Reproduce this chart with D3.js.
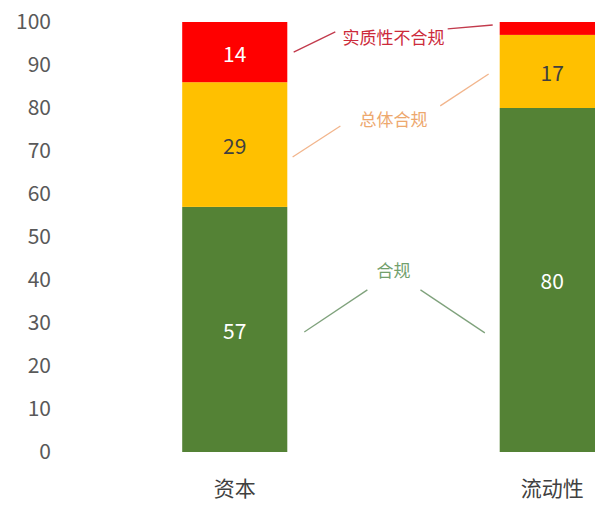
<!DOCTYPE html>
<html><head><meta charset="utf-8">
<script src="https://cdn.jsdelivr.net/npm/d3@7/dist/d3.min.js"></script>
<style>body{margin:0;background:#fff}svg{display:block}</style>
</head><body>
<svg id="c" width="595" height="506"></svg>
<script>
const categories = ["资本", "流动性"];
const compliant = [57, 80];
const overallCompliant = [29, 17];
const materialNonCompliant = [14, 3];
const seriesNames = ["合规", "总体合规", "实质性不合规"];
const seriesColors = ["#548235", "#FFC000", "#FF0000"];
const labelColors = ["#ffffff", "#404040", "#ffffff"];
const yTicks = [0, 10, 20, 30, 40, 50, 60, 70, 80, 90, 100];

const svg = d3.select("#c");
const font = "'Microsoft YaHei','Noto Sans CJK SC','Noto Sans',sans-serif";

const x = d3.scaleBand().domain(categories).range([76, 711]).paddingInner(0.669).paddingOuter(0.3345);
const y = d3.scaleLinear().domain([0, 100]).range([452, 22]);

const rows = categories.map((c, i) => ({cat: c, s0: compliant[i], s1: overallCompliant[i], s2: materialNonCompliant[i]}));
const stack = d3.stack().keys(["s0", "s1", "s2"])(rows);

// y axis labels
const yAxis = d3.axisLeft(y).tickValues(yTicks).tickSize(0).tickPadding(0);
const gy = svg.append("g").attr("transform", "translate(51,0)").call(yAxis);
gy.select(".domain").remove();
gy.selectAll("text").attr("font-family", font).attr("font-size", 21).attr("fill", "#595959");

// bars
stack.forEach((layer, k) => {
  const g = svg.append("g");
  g.selectAll("rect").data(layer).join("rect")
    .attr("x", d => x(d.data.cat)).attr("width", x.bandwidth())
    .attr("y", d => y(d[1])).attr("height", d => y(d[0]) - y(d[1]))
    .attr("fill", seriesColors[k]);
  g.selectAll("text").data(layer.filter(d => d[1] - d[0] >= 8)).join("text")
    .attr("x", d => x(d.data.cat) + x.bandwidth() / 2)
    .attr("y", d => y((d[0] + d[1]) / 2))
    .attr("dy", "0.45em").attr("text-anchor", "middle")
    .attr("font-family", font).attr("font-size", 21)
    .attr("fill", labelColors[k])
    .text(d => d[1] - d[0]);
});

// x axis labels
const xAxis = d3.axisBottom(x).tickSize(0).tickPadding(0);
const gx = svg.append("g").attr("transform", "translate(0,481)").call(xAxis);
gx.select(".domain").remove();
gx.selectAll("text").attr("font-family", font).attr("font-size", 21).attr("fill", "#404040").attr("dy", "0.7em");

// annotations (series name labels with leader lines), in data units
// x positions as fraction of the gap between the two bars
const annoTextColor = ["#72a06c", "#eda86e", "#cc2a3a"];
const annoLineColor = ["#7fa27c", "#f2b58c", "#c23a4c"];
const annoLabelY = [42, 77.2, 96.2];
const annoLeft = [
  [[0.08, 27.9], [0.377, 37.7]],
  [[0.025, 68.6], [0.25, 75.8]],
  [[0.03, 93], [0.226, 97.7]]
];
const annoRight = [
  [[0.627, 37.7], [0.93, 27.7]],
  [[0.72, 80.5], [0.948, 87.9]],
  [[0.755, 98.4], [0.967, 99.3]]
];
const xa = x(categories[0]) + x.bandwidth(), xb = x(categories[1]);
const gx2 = f => xa + f * (xb - xa);
seriesNames.forEach((name, k) => {
  [annoLeft[k], annoRight[k]].forEach(seg => {
    svg.append("line")
      .attr("x1", gx2(seg[0][0])).attr("y1", y(seg[0][1]))
      .attr("x2", gx2(seg[1][0])).attr("y2", y(seg[1][1]))
      .attr("stroke", annoLineColor[k]).attr("stroke-width", 1.3);
  });
  svg.append("text").attr("x", gx2(0.5)).attr("y", y(annoLabelY[k])).attr("dy", "0.35em")
    .attr("text-anchor", "middle").attr("font-family", font).attr("font-size", 17)
    .attr("fill", annoTextColor[k]).text(name);
});
</script>
</body></html>
